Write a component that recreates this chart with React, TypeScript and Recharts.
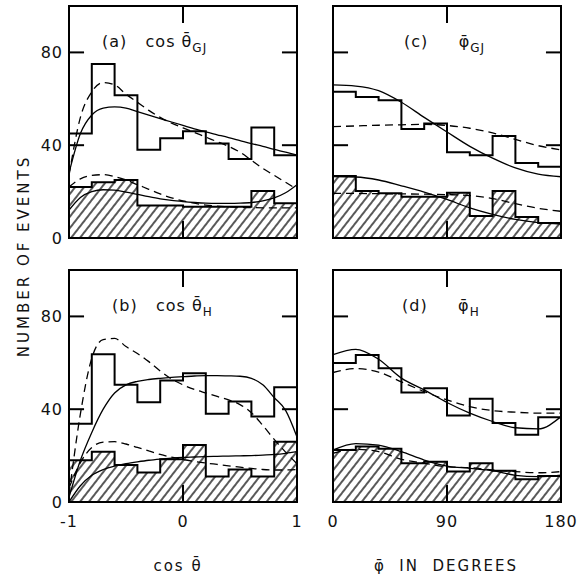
import React from 'react'
import { ComposedChart, Line, Area, XAxis, YAxis, ReferenceArea, ReferenceLine } from 'recharts'

// bin edges and curve sample points
const cosEdges = [-1, -0.8, -0.6, -0.4, -0.2, 0, 0.2, 0.4, 0.6, 0.8, 1]
const phiEdges = [0, 18, 36, 54, 72, 90, 108, 126, 144, 162, 180]
const cosCurveX = [-1, -0.9, -0.8, -0.7, -0.6, -0.5, -0.4, -0.3, -0.2, -0.1, 0, 0.1, 0.2, 0.3, 0.4, 0.5, 0.6, 0.7, 0.8, 0.9, 1]
const phiCurveX = [0, 18, 36, 54, 72, 90, 108, 126, 144, 162, 180]
const cosTicks = [-1, 0, 1]
const phiTicks = [0, 90, 180]
const yTicks = [0, 40, 80]

// (a) cos theta GJ
const aAll = [45, 75, 61.5, 38, 43, 46, 40.7, 34, 47.6, 35.7]
const aHatch = [22, 24, 25, 14, 14, 13.5, 13.5, 13.5, 20.3, 15]
const aSolidHi = [28, 45, 53, 56, 56.5, 56, 54.5, 53, 51.5, 50, 48.5, 47, 45.7, 44.5, 43.3, 42, 40.7, 39.5, 38.2, 37, 35.7]
const aDashHi = [27, 52, 63, 67, 66, 62, 58.5, 55, 52, 49.5, 47.5, 45.5, 43.5, 41.5, 39.5, 37, 33.5, 30, 27, 24, 21]
const aSolidLo = [12, 17.5, 20, 20.8, 20.6, 19.8, 18.8, 17.8, 16.9, 16.2, 15.7, 15.3, 15, 14.9, 14.9, 15, 15.3, 16, 17.3, 19.5, 23]
const aDashLo = [22, 25.5, 27, 27.3, 26.5, 25, 23, 21, 19, 17.3, 16, 15, 14.2, 13.7, 13.4, 13.2, 13.1, 13, 13, 13, 13]

// (b) cos theta H
const bAll = [33.7, 63.7, 50.5, 43, 52.4, 55.5, 38, 43.3, 36.8, 49.5]
const bHatch = [18, 21.7, 16, 12.7, 18.4, 24.6, 11, 14, 11, 26]
const bSolidHi = [2, 18, 30, 40, 47, 50.5, 52, 52.8, 53.3, 53.7, 54, 54.3, 54.5, 54.5, 54.4, 54.2, 53.3, 50.5, 45, 39.5, 28]
const bDashHi = [3, 38, 62, 70, 70.5, 67, 64, 60.5, 56.5, 53, 50.5, 48.5, 47, 45.5, 44, 42, 38.5, 33, 27, 21.5, 16.5]
const bSolidLo = [0, 7, 11.5, 14, 15.5, 16.5, 17.3, 18, 18.5, 18.9, 19.2, 19.4, 19.6, 19.7, 19.8, 19.9, 20, 20.2, 20.5, 21, 21.7]
const bDashLo = [6, 17, 23.5, 25.8, 26, 25, 23.5, 22, 20.5, 19.3, 18.3, 17.5, 16.8, 16.2, 15.6, 15, 14.5, 14, 13.8, 13.8, 14]

// (c) phi GJ
const cAll = [63, 60.8, 59.4, 47, 49.3, 37, 35.7, 44, 32.3, 30.7]
const cHatch = [26.7, 20.3, 19.3, 17.8, 17.8, 19.5, 9.5, 20.3, 9, 6.5]
const cSolidHi = [66, 65.5, 63.5, 58.5, 52, 45.7, 39.5, 34.4, 30.2, 27.5, 26.4]
const cDashHi = [48, 48.3, 48.6, 48.8, 49, 48.5, 47.3, 45.3, 42.5, 39.8, 38]
const cSolidLo = [26.5, 26.3, 25, 22.5, 19.8, 16.6, 13, 10.2, 8, 6.6, 6]
const cDashLo = [19.2, 19.2, 19.1, 19, 18.9, 18.7, 18.3, 17, 14.8, 12.8, 11.5]

// (d) phi H
const dAll = [59.9, 63.4, 57.7, 47.2, 49, 37.3, 44.5, 34, 29, 36.5]
const dHatch = [22.4, 23.9, 22.9, 16.7, 17.4, 13.1, 16.7, 13.5, 9.8, 11.2]
const dSolidHi = [63.5, 65.8, 61.5, 53.4, 48.3, 42.9, 38.3, 34.7, 32, 31.5, 36.8]
const dDashHi = [55.8, 57.5, 56, 51.8, 47.6, 44, 41.1, 39.4, 38.7, 38.3, 38.3]
const dSolidLo = [22.4, 25.2, 24.5, 21.7, 18.1, 15.5, 14.5, 13.5, 11.5, 10.9, 11.6]
const dDashLo = [21, 22.7, 21.7, 18.4, 16.7, 15.2, 14.8, 13.8, 13.1, 12.6, 13.1]

const FONT = '"DejaVu Sans", sans-serif'

const stepRows = (edges: number[], vals: number[]) =>
  edges.map((x, i) => ({ x, v: vals[Math.min(i, vals.length - 1)] }))
const curveRows = (xs: number[], vals: number[]) => xs.map((x, i) => ({ x, v: vals[i] }))

interface PanelProps {
  id: string
  left: number
  top: number
  domain: [number, number]
  xTicks: number[]
  edges: number[]
  curveX: number[]
  all: number[]
  hatch: number[]
  solidHi: number[]
  dashHi: number[]
  solidLo: number[]
  dashLo: number[]
  showX: boolean
  showY: boolean
}

function Panel(p: PanelProps) {
  const [x0, x1] = p.domain
  const mid = (x0 + x1) / 2
  const tx = (x1 - x0) * 0.066
  const ty = 7.3
  const tickStyle = { fontFamily: FONT, fontSize: 16, fill: '#111', letterSpacing: 1 }
  return (
    <div style={{ position: 'absolute', left: p.left, top: p.top }}>
      <ComposedChart width={290} height={266} margin={{ top: 4, right: 25, bottom: 0, left: 7 }}>
        <defs>
          <pattern id={`hatch-${p.id}`} width="7" height="7" patternUnits="userSpaceOnUse" patternTransform="rotate(38)">
            <line x1="1" y1="0" x2="1" y2="7" stroke="#000" strokeWidth="1.3" />
          </pattern>
        </defs>
        <XAxis
          dataKey="x"
          type="number"
          domain={p.domain}
          ticks={p.xTicks}
          allowDataOverflow
          axisLine={false}
          tickLine={false}
          tickSize={0}
          tickMargin={14}
          height={30}
          tick={p.showX ? tickStyle : false}
        />
        <YAxis
          type="number"
          domain={[0, 100]}
          ticks={yTicks}
          allowDataOverflow
          axisLine={false}
          tickLine={false}
          tickSize={0}
          tickMargin={6}
          width={30}
          tick={p.showY ? tickStyle : false}
        />
        <Area
          data={stepRows(p.edges, p.hatch)}
          dataKey="v"
          type="stepAfter"
          baseValue={0}
          stroke="#000"
          strokeWidth={2}
          fill={`url(#hatch-${p.id})`}
          fillOpacity={1}
          isAnimationActive={false}
        />
        <Line data={stepRows(p.edges, p.all)} dataKey="v" type="stepAfter" stroke="#000" strokeWidth={2} dot={false} isAnimationActive={false} />
        <Line data={curveRows(p.curveX, p.solidHi)} dataKey="v" type="monotone" stroke="#000" strokeWidth={1.3} dot={false} isAnimationActive={false} />
        <Line data={curveRows(p.curveX, p.dashHi)} dataKey="v" type="monotone" stroke="#000" strokeWidth={1.3} strokeDasharray="8 5" dot={false} isAnimationActive={false} />
        <Line data={curveRows(p.curveX, p.solidLo)} dataKey="v" type="monotone" stroke="#000" strokeWidth={1.3} dot={false} isAnimationActive={false} />
        <Line data={curveRows(p.curveX, p.dashLo)} dataKey="v" type="monotone" stroke="#000" strokeWidth={1.3} strokeDasharray="8 5" dot={false} isAnimationActive={false} />
        <ReferenceArea x1={x0} x2={x1} y1={0} y2={100} fill="none" stroke="#000" strokeWidth={2} ifOverflow="visible" />
        {[40, 80].map((y) => (
          <ReferenceLine key={`l${y}`} segment={[{ x: x0, y }, { x: x0 + tx, y }]} stroke="#000" strokeWidth={2} />
        ))}
        {[40, 80].map((y) => (
          <ReferenceLine key={`r${y}`} segment={[{ x: x1 - tx, y }, { x: x1, y }]} stroke="#000" strokeWidth={2} />
        ))}
        <ReferenceLine segment={[{ x: mid, y: 0 }, { x: mid, y: ty }]} stroke="#000" strokeWidth={2} />
        <ReferenceLine segment={[{ x: mid, y: 100 - ty }, { x: mid, y: 100 }]} stroke="#000" strokeWidth={2} />
      </ComposedChart>
    </div>
  )
}

function PanelLabel({ x, y, tag, sym, sub, cos }: { x: number; y: number; tag: string; sym: string; sub: string; cos: boolean }) {
  return (
    <text x={x} y={y} fontFamily={FONT} fontSize={16} fill="#111" letterSpacing={1} style={{ whiteSpace: 'pre' }}>
      {tag}
      {cos ? '   cos ' : '     '}
      {sym}
      <tspan fontSize={12} dy={5}>{sub}</tspan>
    </text>
  )
}

export default function App() {
  return (
    <div style={{ position: 'relative', width: 581, height: 578, background: '#fff', overflow: 'hidden' }}>
      <style>{`body{margin:0}`}</style>
      <Panel id="a" left={32} top={2} domain={[-1, 1]} xTicks={cosTicks} edges={cosEdges} curveX={cosCurveX}
        all={aAll} hatch={aHatch} solidHi={aSolidHi} dashHi={aDashHi} solidLo={aSolidLo} dashLo={aDashLo} showX={false} showY />
      <Panel id="c" left={296} top={2} domain={[0, 180]} xTicks={phiTicks} edges={phiEdges} curveX={phiCurveX}
        all={cAll} hatch={cHatch} solidHi={cSolidHi} dashHi={cDashHi} solidLo={cSolidLo} dashLo={cDashLo} showX={false} showY={false} />
      <Panel id="b" left={32} top={266} domain={[-1, 1]} xTicks={cosTicks} edges={cosEdges} curveX={cosCurveX}
        all={bAll} hatch={bHatch} solidHi={bSolidHi} dashHi={bDashHi} solidLo={bSolidLo} dashLo={bDashLo} showX showY />
      <Panel id="d" left={296} top={266} domain={[0, 180]} xTicks={phiTicks} edges={phiEdges} curveX={phiCurveX}
        all={dAll} hatch={dHatch} solidHi={dSolidHi} dashHi={dDashHi} solidLo={dSolidLo} dashLo={dDashLo} showX showY={false} />
      <svg width={581} height={578} style={{ position: 'absolute', left: 0, top: 0, pointerEvents: 'none' }}>
        <PanelLabel x={102} y={47} tag="(a)" sym="θ̄" sub="GJ" cos />
        <PanelLabel x={404} y={47} tag="(c)" sym="φ̄" sub="GJ" cos={false} />
        <PanelLabel x={112} y={311} tag="(b)" sym="θ̄" sub="H" cos />
        <PanelLabel x={402} y={311} tag="(d)" sym="φ̄" sub="H" cos={false} />
        <text x={24} y={256} transform="rotate(-90 24 256)" textAnchor="middle" dominantBaseline="middle"
          fontFamily={FONT} fontSize={15} letterSpacing={3} fill="#111">NUMBER OF EVENTS</text>
        <text x={178} y={566} textAnchor="middle" dominantBaseline="middle" fontFamily={FONT} fontSize={15} letterSpacing={2} fill="#111">cos θ̄</text>
        <text x={446} y={566} textAnchor="middle" dominantBaseline="middle" fontFamily={FONT} fontSize={15} letterSpacing={2} fill="#111" style={{ whiteSpace: 'pre' }}>φ̄  IN  DEGREES</text>
      </svg>
    </div>
  )
}
